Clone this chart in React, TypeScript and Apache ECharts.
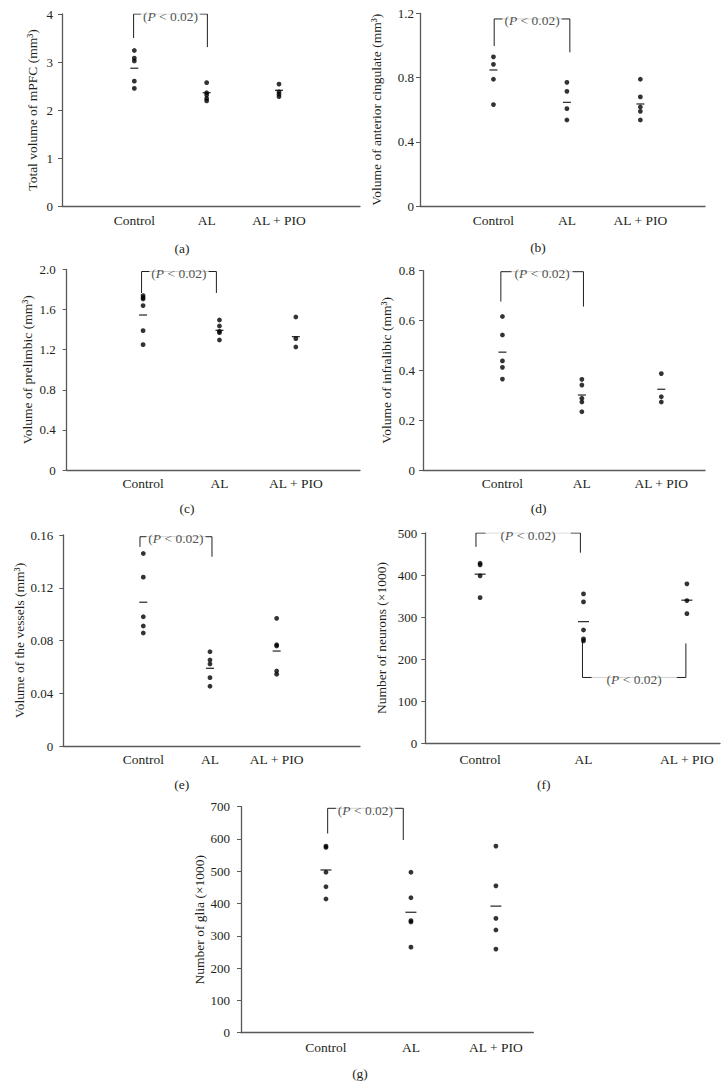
import React, { useEffect, useRef } from 'react';
import * as echarts from 'echarts';

// ---------- data ----------
const categories = ['Control', 'AL', 'AL + PIO'];
const categoryPositions = [1, 2, 3];
const pText = '(P < 0.02)';

// (a) total volume of mPFC
const mpfcDots = [
  [3.24, 3.08, 3.02, 2.6, 2.45],
  [2.57, 2.36, 2.31, 2.24, 2.19],
  [2.54, 2.38, 2.33, 2.28],
];
const mpfcMeans = [2.87, 2.36, 2.41];
// [xLeft, xRight, level, leftEnd, rightEnd]
const mpfcBrackets = [[0.99, 2.01, 4.0, 3.5, 3.31]];

// (b) anterior cingulate
const cingulateDots = [
  [0.93, 0.883, 0.79, 0.632],
  [0.771, 0.715, 0.607, 0.536],
  [0.79, 0.68, 0.617, 0.59, 0.536],
];
const cingulateMeans = [0.848, 0.646, 0.636];
const cingulateBrackets = [[1.01, 2.04, 1.166, 0.997, 0.958]];

// (c) prelimbic
const prelimbicDots = [
  [1.74, 1.72, 1.706, 1.64, 1.39, 1.25],
  [1.496, 1.436, 1.383, 1.37, 1.297],
  [1.526, 1.31, 1.227],
];
const prelimbicMeans = [1.546, 1.393, 1.33];
const prelimbicBrackets = [[0.98, 1.96, 1.98, 1.766, 1.766]];

// (d) infralibic
const infralibicDots = [
  [0.616, 0.542, 0.438, 0.412, 0.365],
  [0.364, 0.341, 0.288, 0.273, 0.234],
  [0.387, 0.294, 0.273],
];
const infralibicMeans = [0.473, 0.301, 0.324];
const infralibicBrackets = [[0.98, 2.02, 0.796, 0.676, 0.656]];

// (e) vessels
const vesselDots = [
  [0.146, 0.128, 0.098, 0.091, 0.0857],
  [0.0715, 0.0652, 0.0622, 0.0518, 0.0453],
  [0.0968, 0.0768, 0.0758, 0.0569, 0.0544],
];
const vesselMeans = [0.109, 0.0589, 0.072];
const vesselBrackets = [[0.95, 2.03, 0.1587, 0.151, 0.1435]];

// (f) neurons
const neuronDots = [
  [428, 424, 398, 346],
  [355, 336, 269, 248, 243],
  [379, 339, 308],
];
const neuronMeans = [402, 289, 340];
const neuronBrackets = [
  [0.96, 1.97, 500, 467, 453],
  [1.99, 2.99, 156, 245, 237],
];

// (g) glia
const gliaDots = [
  [578, 574, 497, 452, 414],
  [497, 418, 347, 343, 265],
  [578, 455, 354, 318, 259],
];
const gliaMeans = [504, 373, 392];
const gliaBrackets = [[1.02, 1.91, 695, 617, 597]];

// ---------- layout / style ----------
const FONT = "'Liberation Serif', 'DejaVu Serif', serif";
const TEXT = '#231f20';
const MARK = '#000000';
const AXIS = '#58595b';
const FS = 13.5;

const panels = [
  { tag: '(a)', name: 'Total volume of mPFC (mm³)', dots: mpfcDots, means: mpfcMeans, brackets: mpfcBrackets,
    grid: [62, 14, 298, 192], xRange: [0, 4.12], yMax: 4, yInterval: 1, dec: 0, nameGap: 23, yMargin: 9, xMargin: 7,
    caption: [182, 248], meanW: 8, pad: 2 },
  { tag: '(b)', name: 'Volume of anterior cingulate (mm³)', dots: cingulateDots, means: cingulateMeans, brackets: cingulateBrackets,
    grid: [420, 13.5, 285, 192.5], xRange: [0, 3.88], yMax: 1.2, yInterval: 0.4, dec: 1, nameGap: 37, yMargin: 6, xMargin: 7,
    caption: [538, 247], meanW: 8, pad: 2 },
  { tag: '(c)', name: 'Volume of prelimbic (mm³)', dots: prelimbicDots, means: prelimbicMeans, brackets: prelimbicBrackets,
    grid: [66.7, 269.5, 293.3, 200.5], xRange: [0, 3.84], yMax: 2.0, yInterval: 0.4, dec: 1, nameGap: 32, yMargin: 11, xMargin: 6,
    caption: [187, 508], meanW: 8, pad: 2 },
  { tag: '(d)', name: 'Volume of infralibic (mm³)', dots: infralibicDots, means: infralibicMeans, brackets: infralibicBrackets,
    grid: [423, 270.7, 282, 199.3], xRange: [0, 3.55], yMax: 0.8, yInterval: 0.2, dec: 1, nameGap: 30, yMargin: 8, xMargin: 6,
    caption: [538.7, 508], meanW: 8, pad: 3 },
  { tag: '(e)', name: 'Volume of the vessels (mm³)', dots: vesselDots, means: vesselMeans, brackets: vesselBrackets,
    grid: [63.3, 535, 296.7, 211], xRange: [-0.2, 4.25], yMax: 0.16, yInterval: 0.04, dec: 2, nameGap: 37, yMargin: 10, xMargin: 6,
    caption: [181.7, 784], meanW: 8, pad: 2 },
  { tag: '(f)', name: 'Number of neurons (×1000)', dots: neuronDots, means: neuronMeans, brackets: neuronBrackets,
    grid: [425.3, 533, 294.7, 210], xRange: [0.47, 3.32], yMax: 500, yInterval: 100, dec: 0, nameGap: 37, yMargin: 8, xMargin: 9,
    caption: [543.7, 784.3], meanW: 11, pad: 15 },
  { tag: '(g)', name: 'Number of glia (×1000)', dots: gliaDots, means: gliaMeans, brackets: gliaBrackets,
    grid: [241, 806.7, 292.3, 226], xRange: [0, 3.44], yMax: 700, yInterval: 100, dec: 0, nameGap: 35, yMargin: 11, xMargin: 8,
    caption: [360, 1073.3], meanW: 11, pad: 2 },
];

function buildOption() {
  const grid: any[] = [];
  const xAxis: any[] = [];
  const yAxis: any[] = [];
  const series: any[] = [];
  const graphic: any[] = [];
  const textStyle = { fontFamily: FONT, fontSize: FS, color: TEXT };

  panels.forEach((p, i) => {
    grid.push({ left: p.grid[0], top: p.grid[1], width: p.grid[2], height: p.grid[3] });
    xAxis.push({
      type: 'value', gridIndex: i, min: p.xRange[0], max: p.xRange[1],
      axisLine: { show: true, onZero: false, lineStyle: { color: AXIS, width: 1.3 } },
      axisTick: { show: false },
      splitLine: { show: false },
      axisLabel: {
        customValues: categoryPositions,
        formatter: (v: number) => categories[Math.round(v) - 1] ?? '',
        margin: p.xMargin, ...textStyle,
      },
    });
    yAxis.push({
      type: 'value', gridIndex: i, min: 0, max: p.yMax, interval: p.yInterval,
      name: p.name, nameLocation: 'middle', nameGap: p.nameGap, nameRotate: 90,
      nameTextStyle: { ...textStyle },
      axisLine: { show: true, onZero: false, lineStyle: { color: AXIS, width: 1.3 } },
      axisTick: { show: true, length: 4, lineStyle: { color: AXIS, width: 1 } },
      splitLine: { show: false },
      axisLabel: {
        formatter: (v: number) => (v === 0 ? '0' : v.toFixed(p.dec)),
        margin: p.yMargin, ...textStyle, fontSize: 13,
      },
    });

    // significance brackets
    p.brackets.forEach((b) => {
      const [x1, x2, level, e1, e2] = b;
      series.push({
        type: 'line', xAxisIndex: i, yAxisIndex: i, silent: true, symbol: 'none', z: 1,
        lineStyle: { color: TEXT, width: 1 },
        data: [[x1, e1], [x1, level], [x2, level], [x2, e2]],
      });
      series.push({
        type: 'scatter', xAxisIndex: i, yAxisIndex: i, silent: true, symbolSize: 0, z: 3,
        data: [[(x1 + x2) / 2, level]],
        label: {
          show: true, position: 'inside', offset: [0, 2],
          formatter: () => '{n|(}{i|P}{n|' + pText.slice(2) + '}',
          backgroundColor: '#ffffff', padding: [1, p.pad],
          rich: {
            n: { ...textStyle },
            i: { ...textStyle, fontStyle: 'italic' },
          },
        },
      });
    });

    // individual values
    series.push({
      type: 'scatter', xAxisIndex: i, yAxisIndex: i, silent: true, z: 4,
      symbol: 'circle', symbolSize: 4.8,
      itemStyle: { color: MARK },
      data: p.dots.flatMap((arr, g) => arr.map((v) => [categoryPositions[g], v])),
    });
    // group means
    series.push({
      type: 'scatter', xAxisIndex: i, yAxisIndex: i, silent: true, z: 4,
      symbol: 'rect', symbolSize: [p.meanW, 1.3],
      itemStyle: { color: MARK },
      data: p.means.map((m, g) => [categoryPositions[g], m]),
    });

    graphic.push({
      type: 'text', x: p.caption[0], y: p.caption[1],
      style: { text: p.tag, fill: TEXT, font: `${FS}px ${FONT}`, textAlign: 'center', textVerticalAlign: 'middle' },
    });
  });

  return { animation: false, backgroundColor: '#ffffff', grid, xAxis, yAxis, series, graphic };
}

export default function App() {
  const ref = useRef<HTMLDivElement>(null);
  useEffect(() => {
    if (!ref.current) return;
    const chart = echarts.init(ref.current, undefined, { renderer: 'svg' });
    chart.setOption(buildOption() as any);
    return () => chart.dispose();
  }, []);
  return (
    <div
      ref={ref}
      style={{ position: 'absolute', left: 0, top: 0, width: 724, height: 1088, background: '#fff' }}
    />
  );
}
